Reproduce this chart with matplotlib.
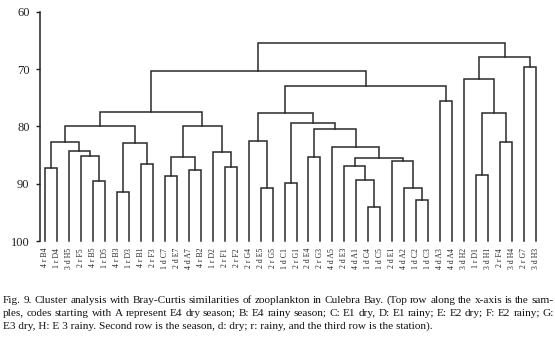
import matplotlib
matplotlib.use('Agg')
import matplotlib.pyplot as plt

plt.rcParams['font.family'] = ['Liberation Serif', 'DejaVu Serif']

# leaf codes: station, season, sample
leaf_labels = ['4 r B4', '1 r D4', '3 d H5', '2 r F5', '4 r B5', '1 r D5', '4 r B3', '1 r D3',
               '4 r B1', '2 r F3', '1 d C7', '2 d E7', '4 d A7', '4 r B2', '1 r D2', '2 r F1',
               '2 r F2', '2 r G4', '2 d E5', '2 r G5', '1 d C1', '2 r G1', '2 d E4', '2 r G3',
               '4 d A5', '2 d E3', '4 d A1', '1 d C4', '1 d C5', '2 d E1', '4 d A2', '1 d C2',
               '1 d C3', '4 d A3', '4 d A4', '3 d H2', '1 r D1', '3 d H1', '2 r F4', '3 d H4',
               '2 r G7', '3 d H3']

# merges: (child a, child b, similarity); leaves are 0..41, merge k gets id 42+k
merges = [(0, 1, 87.3), (4, 5, 89.5), (3, 43, 85.1), (2, 44, 84.3), (42, 45, 82.8),
          (6, 7, 91.5), (8, 9, 86.5), (47, 48, 82.9), (46, 49, 79.95),
          (10, 11, 88.7), (12, 13, 87.6), (51, 52, 85.4), (15, 16, 87.1), (14, 54, 84.4),
          (53, 55, 80.0), (50, 56, 77.5),
          (18, 19, 90.7), (17, 58, 82.6), (20, 21, 89.8), (22, 23, 85.4), (27, 28, 94.0),
          (26, 62, 89.4), (25, 63, 86.9), (31, 32, 92.9), (30, 65, 90.7), (29, 66, 86.1),
          (64, 67, 85.5), (24, 68, 83.6), (61, 69, 80.5), (60, 70, 79.5), (59, 71, 77.7),
          (33, 34, 75.6), (72, 73, 72.9), (57, 74, 70.3),
          (36, 37, 88.4), (38, 39, 82.8), (76, 77, 77.6), (35, 78, 71.8), (40, 41, 69.7),
          (79, 80, 67.9), (75, 81, 65.5)]

y_ticks = [60, 70, 80, 90, 100]

caption_lines = [
    'Fig. 9. Cluster analysis with Bray-Curtis similarities of zooplankton in Culebra Bay. (Top row along the x-axis is the sam-',
    'ples, codes starting with A represent E4 dry season; B: E4 rainy season; C: E1 dry, D: E1 rainy; E: E2 dry; F: E2 rainy; G:',
    'E3 dry, H: E 3 rainy. Second row is the season, d: dry; r: rainy, and the third row is the station).',
]

W, H = 555, 343
fig = plt.figure(figsize=(W / 100, H / 100), dpi=100)
ax = fig.add_axes([40 / W, 1 - 241 / H, 508 / W, (241 - 11.7) / H])

n = len(leaf_labels)
pos = {i: (i, 100.0) for i in range(n)}
for k, (a, b, h) in enumerate(merges):
    xa, ya = pos[a]
    xb, yb = pos[b]
    ax.plot([xa, xa, xb, xb], [ya, h, h, yb], color='#2a2a2a', lw=1.1,
            solid_joinstyle='miter', clip_on=False)
    pos[n + k] = ((xa + xb) / 2, h)

ax.set_ylim(100, 60)
ax.set_xlim(-0.42, 42.0)
for s in ['top', 'right', 'bottom']:
    ax.spines[s].set_visible(False)
ax.spines['left'].set_color('#222')
ax.spines['left'].set_linewidth(1.1)

ax.set_yticks(y_ticks)
ax.set_yticklabels([str(v) for v in y_ticks], fontsize=9, color='#111')
ax.tick_params(axis='y', direction='out', length=3, width=1, pad=4.5, colors='#222')
ax.set_xticks(range(n))
ax.set_xticklabels(leaf_labels, rotation=90, fontsize=5.6, color='#222')
ax.tick_params(axis='x', length=0, pad=5)

# caption: fit last line to its width, justify the first two
renderer = fig.canvas.get_renderer()
left_px, right_px = 2.7, 554.0
probe = fig.text(0, 0, caption_lines[2], fontsize=10)
w10 = probe.get_window_extent(renderer).width
probe.remove()
cap_size = 10 * (431.7 - left_px) / w10
baselines = [303.0, 315.8, 328.6]
for li, line in enumerate(caption_lines):
    yf = 1 - baselines[li] / H
    if li == len(caption_lines) - 1:
        fig.text(left_px / W, yf, line, fontsize=cap_size, va='baseline', color='#111')
        continue
    words = line.split(' ')
    texts = [fig.text(0, yf, w, fontsize=cap_size, va='baseline', color='#111') for w in words]
    widths = [t.get_window_extent(renderer).width for t in texts]
    gap = (right_px - left_px - sum(widths)) / (len(words) - 1)
    x = left_px
    for t, w in zip(texts, widths):
        t.set_x(x / W)
        x += w + gap

fig.savefig('out.png', dpi=100)
